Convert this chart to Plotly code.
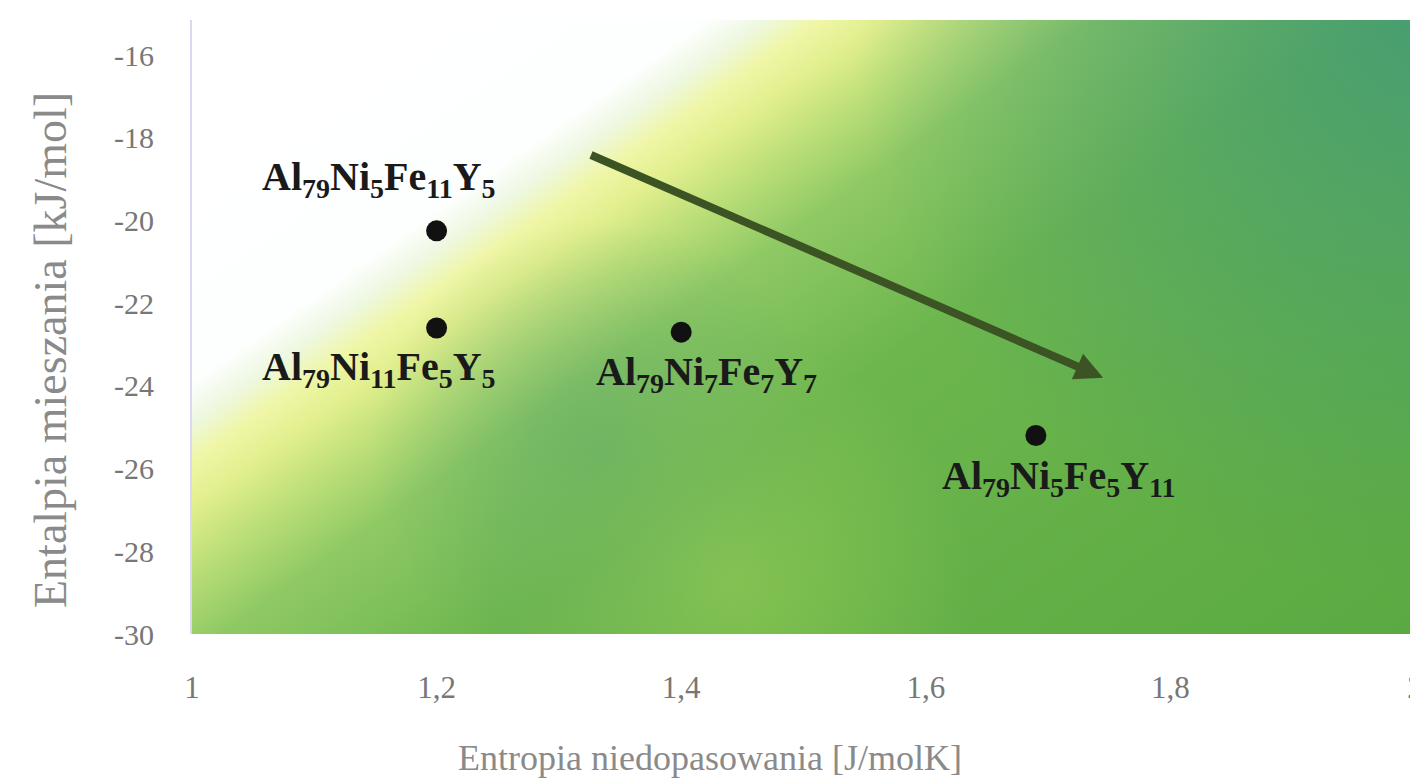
import base64
import plotly.graph_objects as go

# ---- data ----
compositions = [
    "Al<sub>79</sub>Ni<sub>5</sub>Fe<sub>11</sub>Y<sub>5</sub>",
    "Al<sub>79</sub>Ni<sub>11</sub>Fe<sub>5</sub>Y<sub>5</sub>",
    "Al<sub>79</sub>Ni<sub>7</sub>Fe<sub>7</sub>Y<sub>7</sub>",
    "Al<sub>79</sub>Ni<sub>5</sub>Fe<sub>5</sub>Y<sub>11</sub>",
]
entropy = [1.2, 1.2, 1.4, 1.69]
enthalpy = [-20.25, -22.6, -22.7, -25.2]
label_xshift = [-58, -58, 25, 23]
label_yshift = [52, -41, -42, -42]

arrow_start = (1.325, -18.4)
arrow_end = (1.745, -23.8)

x_ticks = [1, 1.2, 1.4, 1.6, 1.8, 2]
x_ticklabels = ["1", "1,2", "1,4", "1,6", "1,8", "2"]
y_ticks = [-16, -18, -20, -22, -24, -26, -28, -30]
y_ticklabels = ["-16", "-18", "-20", "-22", "-24", "-26", "-28", "-30"]

x_title = "Entropia niedopasowania [J/molK]"
y_title = "Entalpia mieszania [kJ/mol]"

# ---- background gradient (decorative) ----
svg = """<svg xmlns='http://www.w3.org/2000/svg' width='1223' height='614' viewBox='0 0 1223 614' preserveAspectRatio='none'>
<defs>
<linearGradient id='g' gradientUnits='userSpaceOnUse' x1='0' y1='0' x2='693' y2='986'>
<stop offset='0' stop-color='#ffffff'/>
<stop offset='0.245' stop-color='#fdfffe'/>
<stop offset='0.272' stop-color='#eef8e2'/>
<stop offset='0.30' stop-color='#eff6a6'/>
<stop offset='0.33' stop-color='#e2ef8e'/>
<stop offset='0.37' stop-color='#bfe07a'/>
<stop offset='0.43' stop-color='#8fc964'/>
<stop offset='0.56' stop-color='#6db64e'/>
<stop offset='0.8' stop-color='#62af46'/>
<stop offset='1' stop-color='#5aa942'/>
</linearGradient>
<radialGradient id='t' gradientUnits='userSpaceOnUse' cx='1223' cy='0' r='560'>
<stop offset='0' stop-color='#3f9878' stop-opacity='0.8'/>
<stop offset='1' stop-color='#3f9878' stop-opacity='0'/>
</radialGradient>
<radialGradient id='d' gradientUnits='userSpaceOnUse' cx='410' cy='430' r='230'>
<stop offset='0' stop-color='#4e9e6a' stop-opacity='0.45'/>
<stop offset='1' stop-color='#4e9e6a' stop-opacity='0'/>
</radialGradient>
<radialGradient id='l' gradientUnits='userSpaceOnUse' cx='540' cy='560' r='240'>
<stop offset='0' stop-color='#a6d45a' stop-opacity='0.45'/>
<stop offset='1' stop-color='#a6d45a' stop-opacity='0'/>
</radialGradient>
</defs>
<rect x='0' y='0' width='1223' height='614' fill='url(#g)'/>
<rect x='0' y='0' width='1223' height='614' fill='url(#t)'/>
<rect x='0' y='0' width='1223' height='614' fill='url(#d)'/>
<rect x='0' y='0' width='1223' height='614' fill='url(#l)'/>
</svg>"""
bg_uri = "data:image/svg+xml;base64," + base64.b64encode(svg.encode()).decode()

W, H = 1418, 784
OFF = 8  # page body margin
L, T = 192 - OFF, 20 - OFF
R = W - (1415 - OFF)
B = H - (634 - OFF)
pw, ph = W - L - R, H - T - B


def page_to_paper(px, py):
    return (px - OFF - L) / pw, (H - (py - OFF) - B) / ph


fig = go.Figure()
fig.add_trace(go.Scatter(
    x=entropy, y=enthalpy, mode="markers",
    marker=dict(color="#111111", size=21),
    hoverinfo="skip", showlegend=False,
))

for comp, xv, yv, dx, dy in zip(compositions, entropy, enthalpy, label_xshift, label_yshift):
    fig.add_annotation(
        x=xv, y=yv, xref="x", yref="y", text="<b>" + comp + "</b>",
        showarrow=False, xshift=dx, yshift=dy,
        font=dict(family="Liberation Serif", size=40, color="#1a1a1a"),
    )

fig.add_annotation(
    x=arrow_end[0], y=arrow_end[1], ax=arrow_start[0], ay=arrow_start[1],
    xref="x", yref="y", axref="x", ayref="y", text="",
    showarrow=True, arrowhead=2, arrowsize=0.7, arrowwidth=8,
    arrowcolor="#3c5424",
)

# axis titles as positioned text
tx, ty = page_to_paper(710, 758)
fig.add_annotation(
    x=tx, y=ty, xref="paper", yref="paper", text=x_title, showarrow=False,
    xanchor="center", yanchor="middle",
    font=dict(family="Liberation Serif", size=36, color="#8a8a8a"),
)
tx, ty = page_to_paper(50, 350)
fig.add_annotation(
    x=tx, y=ty, xref="paper", yref="paper", text=y_title, showarrow=False,
    xanchor="center", yanchor="middle", textangle=-90,
    font=dict(family="Liberation Serif", size=46, color="#8a8a8a"),
)

fig.add_layout_image(
    source=bg_uri, xref="paper", yref="paper", x=0, y=1,
    sizex=1, sizey=1, sizing="stretch", xanchor="left", yanchor="top",
    layer="below",
)

fig.update_layout(
    width=W, height=H,
    margin=dict(l=L, r=R, t=T, b=B, autoexpand=False),
    paper_bgcolor="white", plot_bgcolor="rgba(0,0,0,0)",
    font=dict(family="Liberation Serif", color="#888888"),
    xaxis=dict(
        range=[1, 2], tickvals=x_ticks, ticktext=x_ticklabels,
        showgrid=False, zeroline=False, showline=False, automargin=False,
        tickfont=dict(size=31, color="#777777"), ticks="", ticklabelstandoff=32,
        ticklabeloverflow="allow",
    ),
    yaxis=dict(
        range=[-30, -15.15], tickvals=y_ticks, ticktext=y_ticklabels,
        showgrid=False, zeroline=False, showline=True, linecolor="#d8d8ee", linewidth=2,
        automargin=False,
        tickfont=dict(size=30, color="#777777"), ticks="", ticklabelstandoff=30,
    ),
)

fig.write_html("out.html")
